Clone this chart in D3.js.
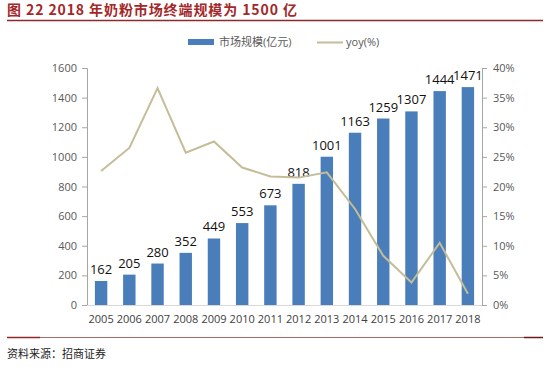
<!DOCTYPE html>
<html>
<head>
<meta charset="utf-8">
<script src="https://cdn.jsdelivr.net/npm/d3@7"></script>
<style>
  body { margin: 0; background: #fff; }
  svg text { font-family: "Open Sans", "Noto Sans CJK SC", sans-serif; }
</style>
</head>
<body>
<div id="chart"></div>
<script>
// data
const years = ["2005","2006","2007","2008","2009","2010","2011","2012","2013","2014","2015","2016","2017","2018"];
const marketSize = [162, 205, 280, 352, 449, 553, 673, 818, 1001, 1163, 1259, 1307, 1444, 1471];
const yoy = [22.6, 26.5, 36.6, 25.7, 27.6, 23.2, 21.7, 21.5, 22.4, 16.2, 8.3, 3.8, 10.5, 1.9];
const leftTicks = [0, 200, 400, 600, 800, 1000, 1200, 1400, 1600];
const rightTicks = [0, 5, 10, 15, 20, 25, 30, 35, 40];

const width = 554, height = 367;
const plot = { left: 87, right: 482, top: 68, bottom: 305 };

const svg = d3.select("#chart").append("svg")
    .attr("width", width)
    .attr("height", height);

// title + rules
svg.append("text")
    .text("图 22 2018 年奶粉市场终端规模为 1500 亿")
    .attr("x", 7).attr("y", 15)
    .attr("fill", "#a3282a")
    .style("font-family", "'Noto Sans CJK SC', sans-serif")
    .style("font-size", "14px")
    .style("letter-spacing", "0.9px")
    .style("font-weight", 700);

svg.append("line")
    .attr("x1", 7).attr("x2", 543).attr("y1", 20.5).attr("y2", 20.5)
    .attr("stroke", "#8e2a2a").attr("stroke-width", 1.5);

svg.append("line")
    .attr("x1", 7).attr("x2", 543).attr("y1", 337.5).attr("y2", 337.5)
    .attr("stroke", "#a86a66").attr("stroke-width", 1.2);
svg.append("line")
    .attr("x1", 7).attr("x2", 40).attr("y1", 337.5).attr("y2", 337.5)
    .attr("stroke", "#8e2a2a").attr("stroke-width", 1.5);
svg.append("line")
    .attr("x1", 524).attr("x2", 543).attr("y1", 337.5).attr("y2", 337.5)
    .attr("stroke", "#6e1a1a").attr("stroke-width", 1.5);

svg.append("text")
    .text("资料来源：招商证券")
    .attr("x", 7).attr("y", 358)
    .attr("fill", "#222")
    .style("font-family", "'Noto Sans CJK SC', sans-serif")
    .style("font-size", "11px");

// scales
const x = d3.scaleBand()
    .domain(years)
    .range([plot.left, plot.right])
    .paddingInner(0.56)
    .paddingOuter(0.28);

const yLeft = d3.scaleLinear().domain([0, 1600]).range([plot.bottom, plot.top]);
const yRight = d3.scaleLinear().domain([0, 40]).range([plot.bottom, plot.top]);

// axes
const leftAxis = d3.axisLeft(yLeft).tickValues(leftTicks)
    .tickFormat(d => String(d)).tickSize(5).tickPadding(5);
const gl = svg.append("g")
    .attr("transform", `translate(${plot.left},0)`)
    .call(leftAxis);

const rightAxis = d3.axisRight(yRight).tickValues(rightTicks)
    .tickFormat(d => d + "%").tickSize(5).tickPadding(6);
const gr = svg.append("g")
    .attr("transform", `translate(${plot.right},0)`)
    .call(rightAxis);

[gl, gr].forEach(g => {
    g.select(".domain").attr("stroke", "#a6a6a6");
    g.selectAll(".tick line").attr("stroke", "#a6a6a6");
    g.selectAll(".tick text")
        .attr("fill", "#595959")
        .style("font-size", "11px")
        .style("font-family", "'Open Sans', sans-serif");
});

// bottom axis line
svg.append("line")
    .attr("x1", plot.left).attr("x2", plot.right)
    .attr("y1", plot.bottom + 0.5).attr("y2", plot.bottom + 0.5)
    .attr("stroke", "#d9d9d9");

const bottomAxis = d3.axisBottom(x).tickSize(0).tickPadding(10);
const gb = svg.append("g")
    .attr("transform", `translate(0,${plot.bottom})`)
    .call(bottomAxis);
gb.select(".domain").remove();
gb.selectAll(".tick text")
    .attr("fill", "#404040")
    .style("font-size", "11px")
    .style("font-family", "'Open Sans', sans-serif");

// bars
svg.selectAll("rect.bar")
    .data(marketSize)
    .join("rect")
    .attr("class", "bar")
    .attr("x", (d, i) => x(years[i]))
    .attr("width", x.bandwidth())
    .attr("y", d => yLeft(d))
    .attr("height", d => plot.bottom - yLeft(d))
    .attr("fill", "#4a7ebb");

// bar labels
svg.selectAll("text.lbl")
    .data(marketSize)
    .join("text")
    .attr("class", "lbl")
    .attr("x", (d, i) => x(years[i]) + x.bandwidth() / 2)
    .attr("y", d => yLeft(d) - 7)
    .attr("text-anchor", "middle")
    .attr("fill", "#111")
    .style("font-size", "13px")
    .text(d => d);

// yoy line
const line = d3.line()
    .x((d, i) => x(years[i]) + x.bandwidth() / 2)
    .y(d => yRight(d));

svg.append("path")
    .datum(yoy)
    .attr("d", line)
    .attr("fill", "none")
    .attr("stroke", "#c4bd97")
    .attr("stroke-width", 2);

// legend
const legend = svg.append("g").attr("transform", "translate(188,42)");
legend.append("rect")
    .attr("x", 0).attr("y", -3).attr("width", 26).attr("height", 6)
    .attr("fill", "#4a7ebb");
legend.append("text")
    .attr("x", 31).attr("y", 4)
    .attr("fill", "#595959")
    .style("font-size", "11px")
    .text("市场规模(亿元)");
legend.append("line")
    .attr("x1", 129).attr("x2", 155).attr("y1", 0.5).attr("y2", 0.5)
    .attr("stroke", "#c4bd97").attr("stroke-width", 2);
legend.append("text")
    .attr("x", 158).attr("y", 4)
    .attr("fill", "#595959")
    .style("font-size", "11px")
    .text("yoy(%)");
</script>
</body>
</html>
